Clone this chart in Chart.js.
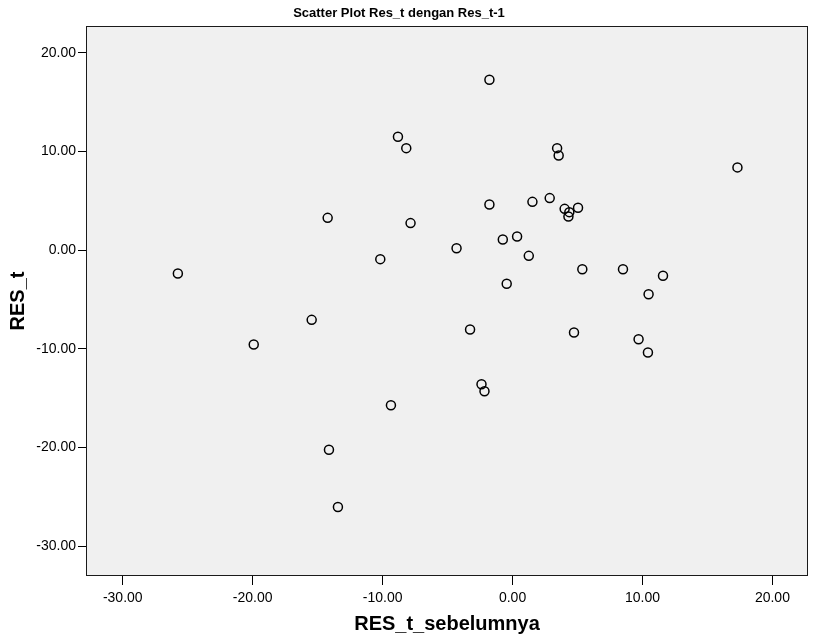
<!DOCTYPE html>
<html>
<head>
<meta charset="utf-8">
<script src="https://cdn.jsdelivr.net/npm/chart.js@4"></script>
<style>
    html, body { margin: 0; padding: 0; background: #ffffff; }
    #wrap { width: 814px; height: 641px; }
</style>
</head>
<body>
<div id="wrap"><canvas id="scatterChart" width="814" height="641"></canvas></div>
<script>
// residual at t-1 (x) and residual at t (y)
const resPrev = [
    -1.78, -8.82, -8.18, 3.43, 3.55, 17.31, -1.78, 1.53, 2.86, 4.01,
    4.37, 4.30, 5.04, -14.23, -7.85, -4.31, -0.75, 0.35, 1.25, -10.18,
    -25.76, 5.37, 8.50, 11.58, -0.45, 10.47, -15.46, -3.27, 4.73, 9.70,
    -19.92, 10.42, -2.39, -2.16, -9.36, -14.13, -13.44
];
const resNow = [
    17.25, 11.48, 10.33, 10.33, 9.59, 8.38, 4.63, 4.89, 5.27, 4.18,
    3.85, 3.41, 4.29, 3.27, 2.74, 0.20, 1.08, 1.39, -0.58, -0.91,
    -2.36, -1.93, -1.93, -2.60, -3.41, -4.46, -7.06, -8.03, -8.34, -9.02,
    -9.55, -10.36, -13.58, -14.29, -15.70, -20.21, -26.01
];
const xTicks = [-30, -20, -10, 0, 10, 20];
const yTicks = [-30, -20, -10, 0, 10, 20];

const chartTitle = 'Scatter Plot Res_t dengan Res_t-1';
const xTitle = 'RES_t_sebelumnya';
const yTitle = 'RES_t';

const points = resPrev.map((x, i) => ({ x: x, y: resNow[i] }));

// grey plot background + black frame round the plot area, plus the chart title
const frameAndTitlePlugin = {
    id: 'frameAndTitle',
    beforeDatasetsDraw(chart) {
        const { ctx, chartArea } = chart;
        ctx.save();
        ctx.fillStyle = '#f0f0f0';
        ctx.fillRect(chartArea.left, chartArea.top,
            chartArea.right - chartArea.left, chartArea.bottom - chartArea.top);
        ctx.restore();
    },
    afterDraw(chart) {
        const { ctx, chartArea } = chart;
        ctx.save();
        ctx.strokeStyle = '#1a1a1a';
        ctx.lineWidth = 1;
        ctx.strokeRect(chartArea.left + 0.5, chartArea.top + 0.5,
            chartArea.right - chartArea.left - 1, chartArea.bottom - chartArea.top - 1);
        ctx.fillStyle = '#000';
        ctx.font = 'bold 13px "Liberation Sans", Arial, sans-serif';
        ctx.textAlign = 'center';
        ctx.textBaseline = 'middle';
        ctx.fillText(chartTitle, 399, 13);
        ctx.restore();
    },
};

const tickFont = { family: '"Liberation Sans", Arial, sans-serif', size: 14 };
const axisTitleFont = { family: '"Liberation Sans", Arial, sans-serif', size: 20, weight: 'bold' };

new Chart(document.getElementById('scatterChart').getContext('2d'), {
    type: 'scatter',
    data: {
        datasets: [{
            data: points,
            pointStyle: 'circle',
            pointRadius: 4.5,
            pointHoverRadius: 4.5,
            pointBorderWidth: 1.5,
            pointBorderColor: '#000',
            pointBackgroundColor: 'rgba(0,0,0,0)',
        }],
    },
    options: {
        responsive: false,
        animation: false,
        layout: { padding: { top: 26, right: 5, left: 0, bottom: 0 } },
        plugins: {
            legend: { display: false },
            tooltip: { enabled: false },
        },
        scales: {
            x: {
                type: 'linear',
                min: -32.83,
                max: 22.74,
                afterFit: (scale) => { scale.height = 65; },
                afterBuildTicks: (scale) => {
                    scale.ticks = xTicks.map((v) => ({ value: v }));
                },
                border: { display: false },
                grid: {
                    drawOnChartArea: false,
                    drawTicks: true,
                    tickLength: 9,
                    color: '#000',
                    tickColor: '#000',
                },
                ticks: {
                    color: '#000',
                    font: tickFont,
                    padding: 5,
                    maxRotation: 0,
                    callback: (v) => Number(v).toFixed(2),
                },
                title: {
                    display: true,
                    text: xTitle,
                    color: '#000',
                    font: axisTitleFont,
                    padding: { top: 0, bottom: 5 },
                },
            },
            y: {
                type: 'linear',
                min: -33.0,
                max: 22.7,
                afterFit: (scale) => { scale.width = 86; },
                afterBuildTicks: (scale) => {
                    scale.ticks = yTicks.map((v) => ({ value: v }));
                },
                border: { display: false },
                grid: {
                    drawOnChartArea: false,
                    drawTicks: true,
                    tickLength: 8,
                    color: '#000',
                    tickColor: '#000',
                },
                ticks: {
                    color: '#000',
                    font: tickFont,
                    padding: 2,
                    callback: (v) => Number(v).toFixed(2),
                },
                title: {
                    display: true,
                    text: yTitle,
                    color: '#000',
                    font: axisTitleFont,
                    padding: { top: 6, bottom: 0 },
                },
            },
        },
    },
    plugins: [frameAndTitlePlugin],
});
</script>
</body>
</html>
